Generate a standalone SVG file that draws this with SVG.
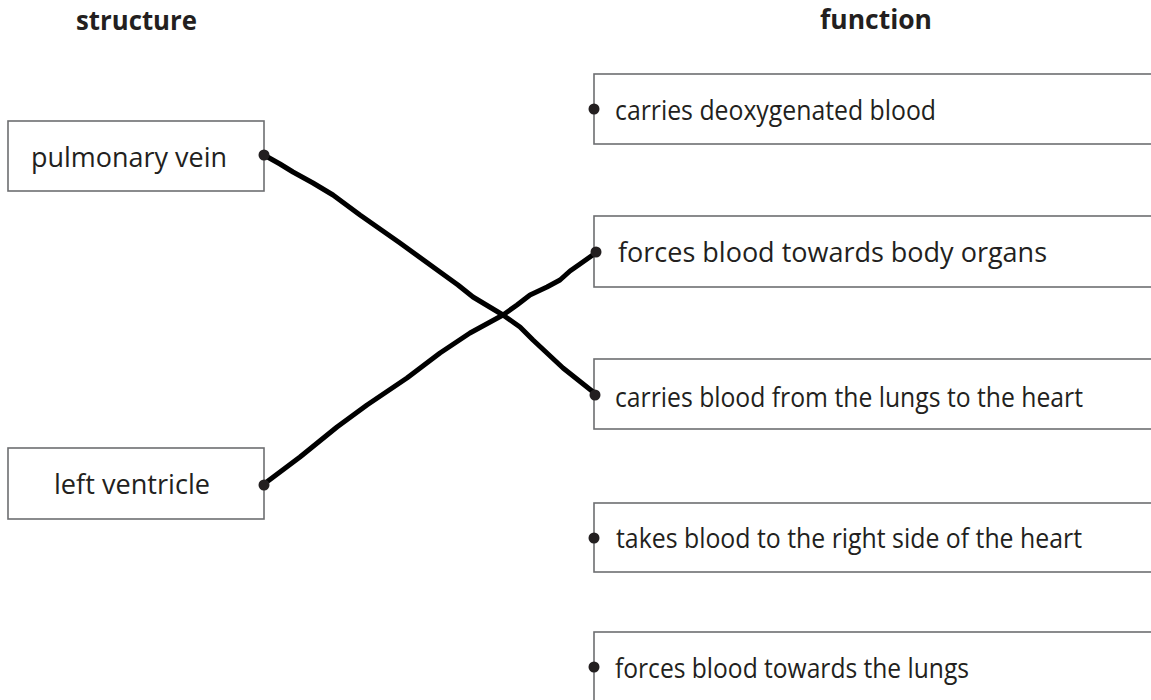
<svg xmlns="http://www.w3.org/2000/svg" width="1151" height="700" viewBox="0 0 1151 700">
<style>
.box{fill:#fff;stroke:#6d6e71;stroke-width:1.6}
.t{font-family:"Open Sans","Liberation Sans",sans-serif;font-size:27px;fill:#231f20}
.h{font-family:"Open Sans","Liberation Sans",sans-serif;font-size:26px;font-weight:bold;fill:#231f20}
.dot{fill:#231f20}
.wire{fill:none;stroke:#000;stroke-width:5;stroke-linecap:round;stroke-linejoin:round}
</style>
<rect width="1151" height="700" fill="#fff"/>
<g id="headers">
<text class="h" x="76" y="30" textLength="121" lengthAdjust="spacingAndGlyphs">structure</text>
<text class="h" x="820" y="29" textLength="112" lengthAdjust="spacingAndGlyphs">function</text>
</g>
<g id="s1">
<rect class="box" x="8" y="121" width="256" height="70"/>
<text class="t" x="31" y="167" textLength="196" lengthAdjust="spacingAndGlyphs">pulmonary vein</text>
</g>
<g id="s2">
<rect class="box" x="8" y="448" width="256" height="71"/>
<text class="t" x="54" y="494" textLength="156" lengthAdjust="spacingAndGlyphs">left ventricle</text>
</g>
<g id="f1">
<rect class="box" x="594" y="74" width="580" height="70"/>
<text class="t" x="615" y="120" textLength="321" lengthAdjust="spacingAndGlyphs">carries deoxygenated blood</text>
</g>
<g id="f2">
<rect class="box" x="594" y="216" width="580" height="71"/>
<text class="t" x="618" y="262" textLength="429" lengthAdjust="spacingAndGlyphs">forces blood towards body organs</text>
</g>
<g id="f3">
<rect class="box" x="594" y="359" width="580" height="70"/>
<text class="t" x="615" y="407" textLength="468" lengthAdjust="spacingAndGlyphs">carries blood from the lungs to the heart</text>
</g>
<g id="f4">
<rect class="box" x="594" y="503" width="580" height="69"/>
<text class="t" x="616" y="548" textLength="466" lengthAdjust="spacingAndGlyphs">takes blood to the right side of the heart</text>
</g>
<g id="f5">
<rect class="box" x="594" y="632" width="580" height="90"/>
<text class="t" x="615" y="678" textLength="354" lengthAdjust="spacingAndGlyphs">forces blood towards the lungs</text>
</g>
<g id="connectors">
<path class="wire" d="M264,155 L280,164 L293,172 L313,183 L333,195 L360,215 L400,243 L440,272 L458,285 L473,297 L503,315 L520,327 L533,340 L548,354 L563,368 L597,395"/>
<path class="wire" d="M264,484 L300,457 L337,427 L367,405 L407,378 L440,353 L470,333 L503,315 L517,305 L530,295 L547,287 L560,280 L570,271 L580,264 L597,252"/>
</g>
<g id="dots">
<circle class="dot" cx="264" cy="155" r="5.5"/>
<circle class="dot" cx="264" cy="485" r="5.5"/>
<circle class="dot" cx="594" cy="109" r="5.5"/>
<circle class="dot" cx="596" cy="252" r="5.5"/>
<circle class="dot" cx="595" cy="395" r="5.5"/>
<circle class="dot" cx="594" cy="538" r="5.5"/>
<circle class="dot" cx="594" cy="667" r="5.5"/>
</g>
</svg>
